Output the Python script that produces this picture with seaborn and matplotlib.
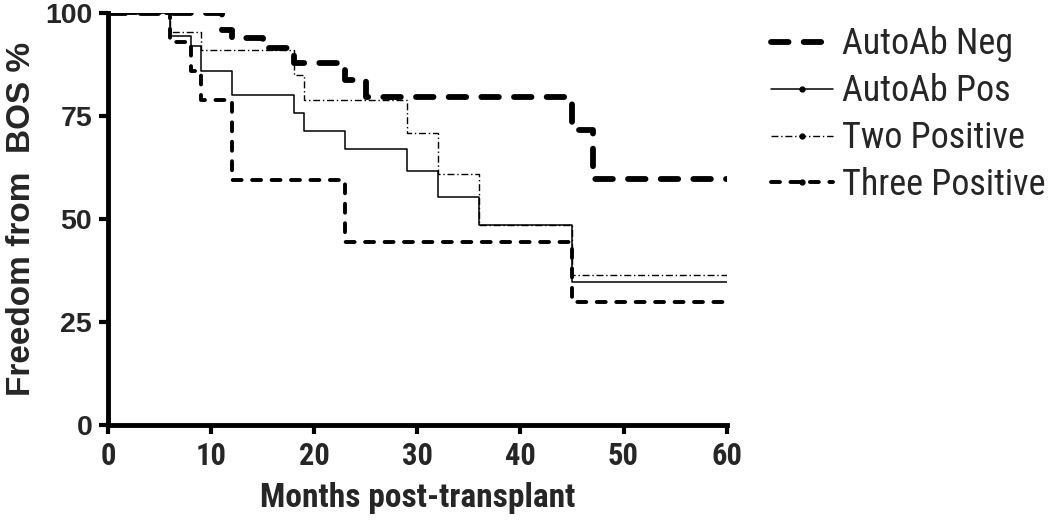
import matplotlib
matplotlib.use("Agg")
import matplotlib.pyplot as plt
from matplotlib.lines import Line2D
from matplotlib import font_manager
import seaborn as sns
import pandas as pd

# ---- data ----
neg_t = [0, 11, 12, 15, 18, 23, 25, 45, 47, 60]
neg_s = [100, 96, 94, 91.5, 88, 83.7, 79.6, 71.5, 59.7, 59.7]
pos_t = [0, 6, 8, 9, 12, 18, 19, 23, 29, 32, 36, 45, 60]
pos_s = [100, 94.5, 92, 86, 80, 75.7, 71.4, 67, 61.7, 55.4, 48.5, 34.7, 34.7]
two_t = [0, 6, 9, 18, 19, 29, 32, 36, 45, 60]
two_s = [100, 95.5, 91, 85, 79, 71, 61, 48.5, 36.5, 36.5]
three_t = [0, 6, 8, 9, 12, 23, 45, 60]
three_s = [100, 93, 86, 79, 59.5, 44.4, 29.8, 29.8]

labels = ["AutoAb Neg", "AutoAb Pos", "Two Positive", "Three Positive"]
x_ticks = [0, 10, 20, 30, 40, 50, 60]
y_ticks = [0, 25, 50, 75, 100]

sns.set_theme(style="ticks")
names = set(f.name for f in font_manager.fontManager.ttflist)
narrow = "Liberation Sans"
for cand in ["Liberation Sans Narrow", "Arial Narrow", "Roboto Condensed", "Open Sans Condensed"]:
    if cand in names:
        narrow = cand
        break
wide = "Liberation Sans"
plt.rcParams["font.family"] = [narrow, "DejaVu Sans"]

frames = []
for lab, t, s in zip(labels, [neg_t, pos_t, two_t, three_t], [neg_s, pos_s, two_s, three_s]):
    frames.append(pd.DataFrame({"t": t, "s": s, "group": lab}))
df = pd.concat(frames, ignore_index=True)

styles = {
    "AutoAb Neg": dict(lw=4.2, ls=(0, (3.0, 2.6)), cap="round"),
    "AutoAb Pos": dict(lw=1.1, ls="-", cap="butt"),
    "Two Positive": dict(lw=1.0, ls=(0, (5, 2, 1, 2)), cap="butt"),
    "Three Positive": dict(lw=2.8, ls=(0, (2.3, 2.7)), cap="round"),
}

fig = plt.figure(figsize=(10.5, 5.24), dpi=100)
ax = fig.add_axes([0.103, 0.189, 0.589, 0.786])

for lab in labels:
    sub = df[df["group"] == lab]
    st = styles[lab]
    sns.lineplot(data=sub, x="t", y="s", ax=ax, color="black", estimator=None,
                 sort=False, drawstyle="steps-post", linewidth=st["lw"],
                 linestyle=st["ls"], dash_capstyle=st["cap"], legend=False)

ax.set_xlim(0, 60)
ax.set_ylim(0, 100)
ax.set_xticks(x_ticks)
ax.set_yticks(y_ticks)
for sp in ["top", "right"]:
    ax.spines[sp].set_visible(False)
for sp in ["left", "bottom"]:
    ax.spines[sp].set_linewidth(3.5)
    ax.spines[sp].set_color("black")
    ax.spines[sp].set_capstyle("projecting")
ax.tick_params(axis="both", direction="out", length=6.5, width=3, color="black", pad=5)
for lbl in ax.get_xticklabels():
    lbl.set_fontweight("bold")
    lbl.set_fontsize(22)
    lbl.set_family([narrow, "DejaVu Sans"])
for lbl in ax.get_yticklabels():
    lbl.set_fontweight("bold")
    lbl.set_fontsize(20.5)
    lbl.set_family([wide, "DejaVu Sans"])
ax.set_xlabel("Months post-transplant", fontsize=24, fontweight="bold", labelpad=8,
              family=[narrow, "DejaVu Sans"])
ax.set_ylabel("Freedom from  BOS %", fontsize=24, fontweight="bold", labelpad=6,
              family=[wide, "DejaVu Sans"])
ax.set_facecolor("white")
ax.grid(False)

handles = []
for lab in labels:
    st = styles[lab]
    mk = None if lab == "AutoAb Neg" else "o"
    handles.append(Line2D([], [], color="black", lw=st["lw"], ls=st["ls"],
                          dash_capstyle=st["cap"], marker=mk, markersize=3.5))
fig.legend(handles, labels, loc="upper left", bbox_to_anchor=(0.721, 0.977),
           frameon=False, fontsize=26, handlelength=1.7, handletextpad=0.25,
           labelspacing=0.3, numpoints=1, borderaxespad=0)

fig.savefig("out.png", dpi=100, facecolor="white")
